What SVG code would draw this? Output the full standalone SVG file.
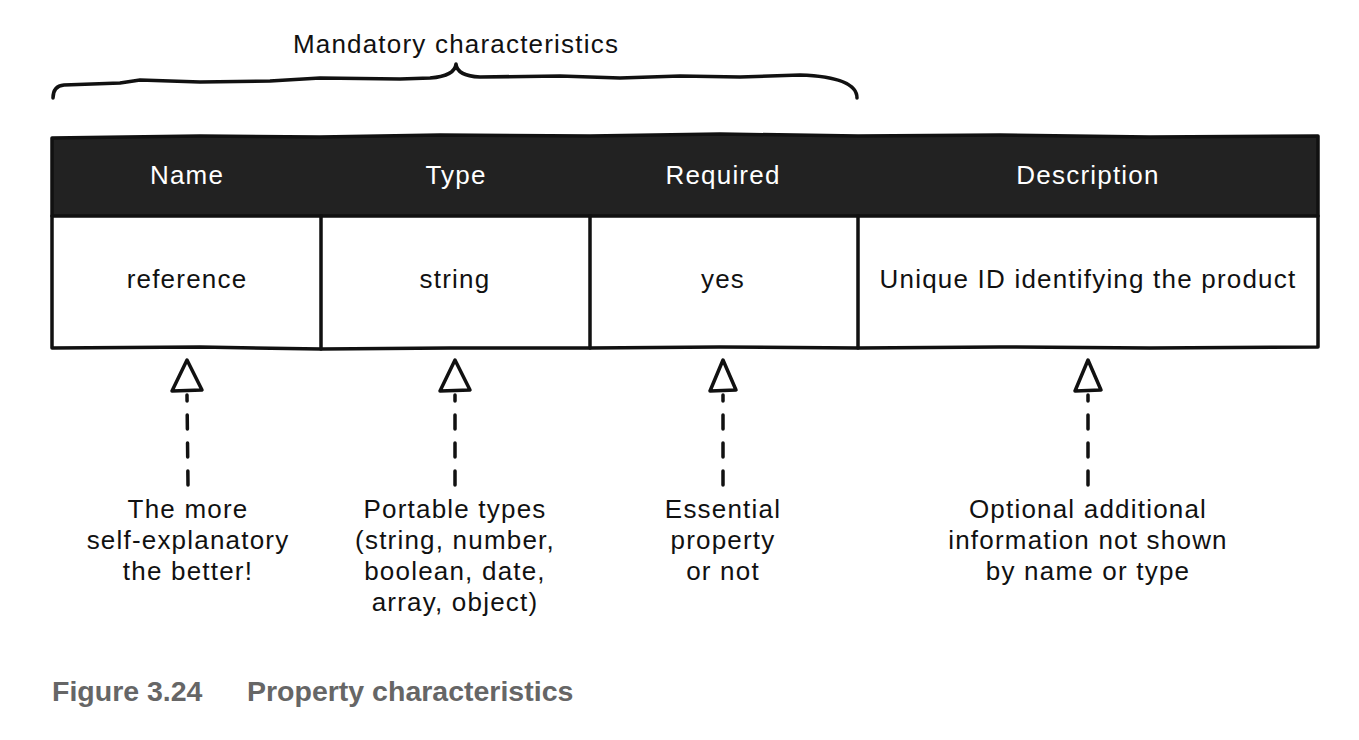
<svg xmlns="http://www.w3.org/2000/svg" width="1359" height="740" viewBox="0 0 1359 740">
<style>
.t{font-family:"Liberation Sans","DejaVu Sans",sans-serif;font-size:26px;letter-spacing:1.2px;fill:#111;text-anchor:middle}
.h{fill:#fff}
.ln{fill:none;stroke:#111;stroke-width:3.5;stroke-linejoin:round;stroke-linecap:round}
.dash{fill:none;stroke:#111;stroke-width:3.5;stroke-dasharray:14 14;stroke-linecap:round}
.head{fill:#fff;stroke:#111;stroke-width:3.5;stroke-linejoin:round}
.cap{font-family:"Liberation Sans","DejaVu Sans",sans-serif;font-size:28.5px;font-weight:bold;fill:#666}
</style>
<rect width="1359" height="740" fill="#fff"/>
<g id="brace">
<path class="ln" d="M53 98 Q53 86 64 85 L120 83 L140 80 L200 82 L270 81 L320 78 L400 79 L430 78 Q455 76 456 64 Q457 76 480 77 L560 76 L620 78 L680 76 L740 77 L800 75 Q857 77 857 98"/>
<text class="t" x="456" y="53">Mandatory characteristics</text>
</g>
<g id="table">
<path d="M52 138 L200 136 L320 137 L440 135 L590 136 L720 134 L858 136 L1000 135 L1150 137 L1318 136 L1318 216 L52 216 Z" fill="#222" stroke="#111" stroke-width="3.5" stroke-linejoin="round"/>
<path class="ln" d="M52 216 L52 348 L200 347 L321 349 L450 348 L590 348 L720 347 L858 348 L1000 347 L1150 348 L1318 347 L1318 216"/>
<path class="ln" d="M321 216 L321 349 M590 216 L590 348 M858 216 L858 348"/>
</g>
<g id="col-name">
<text class="t h" x="187" y="184">Name</text>
<text class="t" x="187" y="288">reference</text>
</g>
<g id="col-type">
<text class="t h" x="456" y="184">Type</text>
<text class="t" x="455" y="288">string</text>
</g>
<g id="col-required">
<text class="t h" x="723" y="184">Required</text>
<text class="t" x="723" y="288">yes</text>
</g>
<g id="col-description">
<text class="t h" x="1088" y="184">Description</text>
<text class="t" x="1088" y="288">Unique ID identifying the product</text>
</g>
<g id="connectors">
<path class="dash" d="M188 485 L187 395"/>
<polygon class="head" points="187,360 202,390 172,391"/>
<path class="dash" d="M455 485 L455 395"/>
<polygon class="head" points="455,360 470,390 440,391"/>
<path class="dash" d="M723 485 L723 395"/>
<polygon class="head" points="723,360 736,390 710,391"/>
<path class="dash" d="M1088 485 L1088 395"/>
<polygon class="head" points="1088,360 1101,390 1075,391"/>
</g>
<g id="note-name">
<text class="t" x="188" y="518">The more</text>
<text class="t" x="188" y="549">self-explanatory</text>
<text class="t" x="188" y="580">the better!</text>
</g>
<g id="note-type">
<text class="t" x="455" y="518">Portable types</text>
<text class="t" x="455" y="549">(string, number,</text>
<text class="t" x="455" y="580">boolean, date,</text>
<text class="t" x="455" y="611">array, object)</text>
</g>
<g id="note-required">
<text class="t" x="723" y="518">Essential</text>
<text class="t" x="723" y="549">property</text>
<text class="t" x="723" y="580">or not</text>
</g>
<g id="note-description">
<text class="t" x="1088" y="518">Optional additional</text>
<text class="t" x="1088" y="549">information not shown</text>
<text class="t" x="1088" y="580">by name or type</text>
</g>
<g id="caption">
<text class="cap" x="52" y="701">Figure 3.24</text>
<text class="cap" x="247" y="701">Property characteristics</text>
</g>
</svg>
